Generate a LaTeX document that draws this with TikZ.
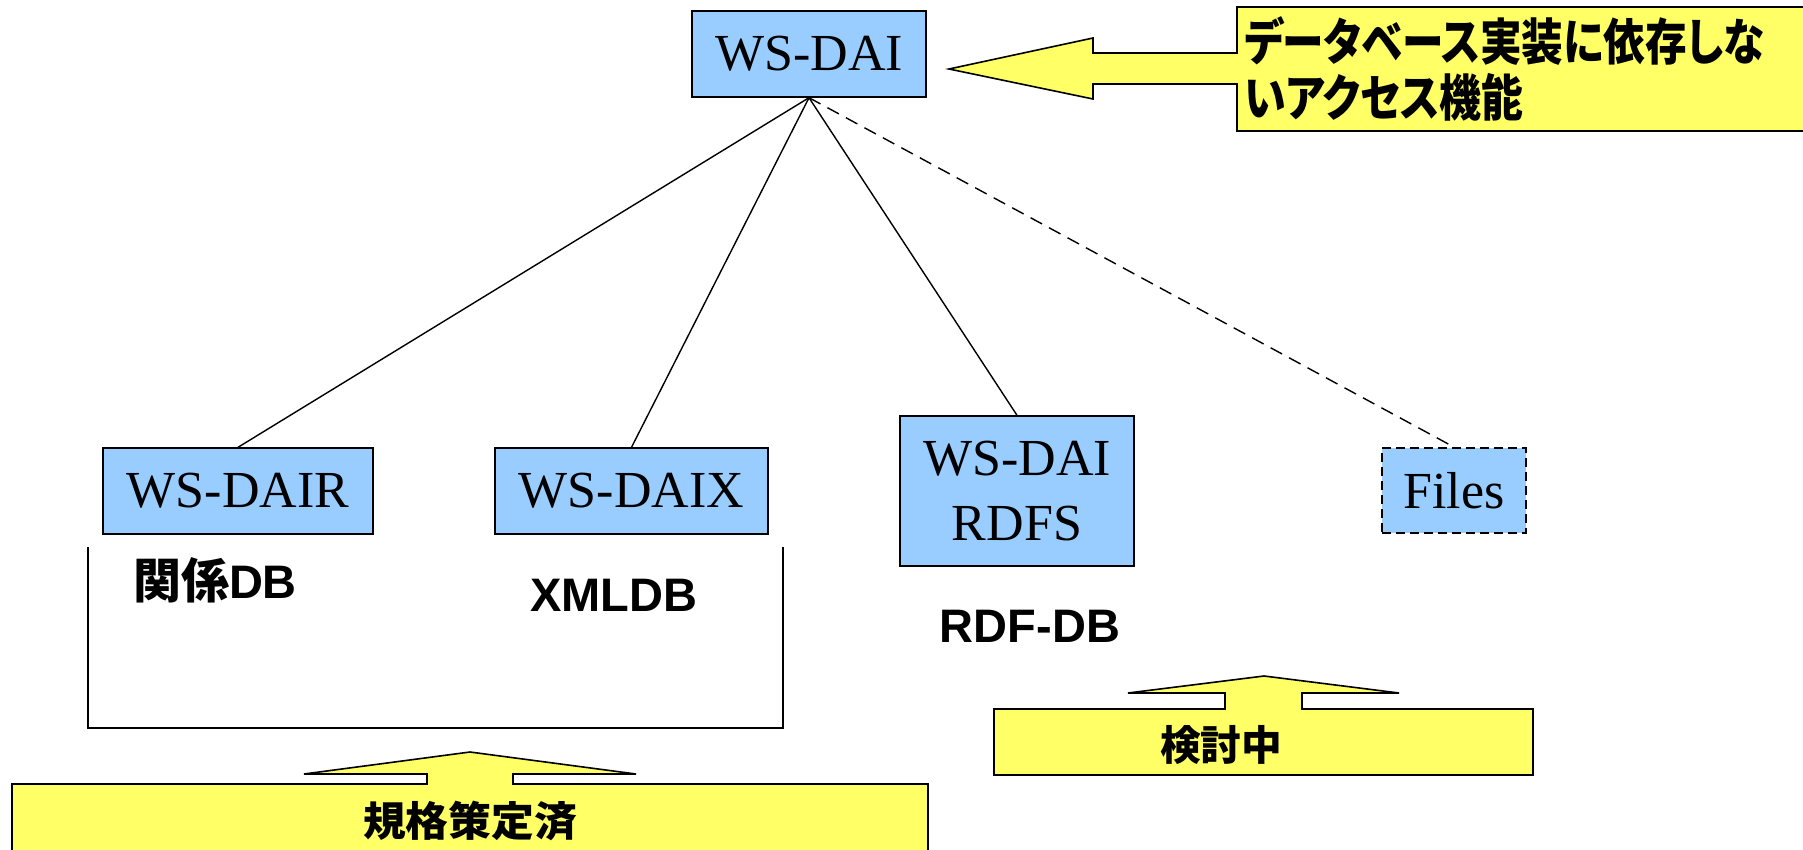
\documentclass[tikz,border=0pt]{standalone}
\usepackage{fontspec}
\setmainfont{Liberation Serif}
\newfontfamily\lsans{Liberation Sans}
\newfontfamily\cjk[RawFeature=+palt]{Noto Sans CJK JP}
\definecolor{boxblue}{HTML}{99CCFF}
\definecolor{callyellow}{HTML}{FFFF66}
\begin{document}
\begin{tikzpicture}[x=1pt,y=-1pt,
  bluebox/.style={draw, line width=1.4pt, fill=boxblue, inner sep=0pt,
    font=\fontsize{52}{65}\selectfont, align=center},
  link/.style={line width=1.4pt},
  callout/.style={draw, line width=1.6pt, fill=callyellow, line join=miter},
  lbl/.style={font=\lsans\bfseries\fontsize{47}{56}\selectfont, inner sep=0pt, anchor=base},
  cjktext/.style={font=\cjk\bfseries, inner sep=0pt}]
\useasboundingbox (0,0) rectangle (1803,849);
% boxes
\node[bluebox, minimum width=234pt, minimum height=86pt] (wsdai) at (809,54) {WS-DAI};
\node[bluebox, minimum width=270pt, minimum height=86pt] (dair) at (238,491) {WS-DAIR};
\node[bluebox, minimum width=273pt, minimum height=86pt] (daix) at (631.5,491) {WS-DAIX};
\node[bluebox, minimum width=234pt, minimum height=150pt] (rdfs) at (1017,491) {WS-DAI\\RDFS};
\node[bluebox, line width=1.8pt, dash pattern=on 9pt off 5pt, minimum width=144pt, minimum height=85pt] (files) at (1454,490.5) {Files};
% connectors
\draw[link] (wsdai.south) -- (dair.north);
\draw[link] (wsdai.south) -- (daix.north);
\draw[link] (wsdai.south) -- (rdfs.north);
\draw[link, dash pattern=on 13pt off 8pt] (wsdai.south) -- (files.north);
% bracket
\coordinate (bl) at (88,547);
\coordinate (br) at (783,547);
\draw[line width=1.4pt] (bl) -- (88,728) -- (783,728) -- (br);
% labels
\node[lbl] (l1) at (215,598) {{\cjk\bfseries\fontsize{48}{56}\selectfont 関係}DB};
\node[lbl] (l2) at (614,611) {XMLDB};
\node[lbl] (l3) at (1030,642) {RDF-DB};
% top callout
\draw[callout] (1237,7) -- (1815,7) -- (1815,131) -- (1237,131) -- (1237,84) -- (1093,84)
  -- (1093,99) -- (949,69) -- (1093,38) -- (1093,53) -- (1237,53) -- cycle;
\node[cjktext, anchor=base west, font=\cjk\bfseries\fontsize{50}{56}\selectfont] (t1) at (1244,60.5) {\resizebox{520pt}{\height}{データベース実装に依存しな}};
\node[cjktext, anchor=base west, font=\cjk\bfseries\fontsize{50}{56}\selectfont] (t2) at (1244,116.5) {\resizebox{279pt}{\height}{いアクセス機能}};
% bottom callout
\draw[callout] (12,784) -- (427,784) -- (427,774) -- (304,774) -- (470,752) -- (636,774)
  -- (513,774) -- (513,784) -- (928,784) -- (928,870) -- (12,870) -- cycle;
\node[cjktext, anchor=base, font=\cjk\bfseries\fontsize{41}{44}\selectfont] (t3) at (470,836) {\resizebox{214pt}{\height}{規格策定済}};
% right callout
\draw[callout] (994,709) -- (1225,709) -- (1225,693) -- (1128,693) -- (1264,676) -- (1399,693)
  -- (1302,693) -- (1302,709) -- (1533,709) -- (1533,775) -- (994,775) -- cycle;
\node[cjktext, anchor=base, font=\cjk\bfseries\fontsize{41}{44}\selectfont] (t4) at (1221,760) {\resizebox{122pt}{\height}{検討中}};
\end{tikzpicture}
\end{document}
